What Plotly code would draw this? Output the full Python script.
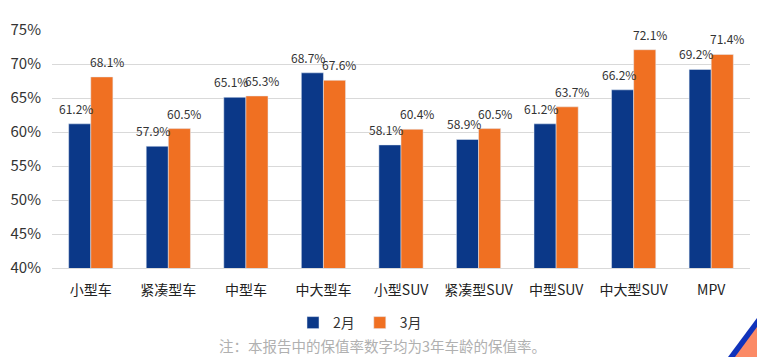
import plotly.graph_objects as go

categories = ["小型车", "紧凑型车", "中型车", "中大型车", "小型SUV", "紧凑型SUV", "中型SUV", "中大型SUV", "MPV"]
feb = [61.2, 57.9, 65.1, 68.7, 58.1, 58.9, 61.2, 66.2, 69.2]
mar = [68.1, 60.5, 65.3, 67.6, 60.4, 60.5, 63.7, 72.1, 71.4]
y_ticks = [40, 45, 50, 55, 60, 65, 70, 75]

blue = "#0b3888"
orange = "#f07022"
font = "Noto Sans CJK SC"

L, R, T, B = 52, 750, 30, 268
W, H = R - L, B - T


def px(x):
    return (x - L) / W


def py(y):
    return (B - y) / H


fig = go.Figure()
fig.add_trace(go.Bar(name="2月", x=categories, y=feb, marker_color=blue))
fig.add_trace(go.Bar(name="3月", x=categories, y=mar, marker_color=orange))

# value labels above bars (slightly spread apart like the original)
for series, shift in ((feb, -15), (mar, 16)):
    for cat, v in zip(categories, series):
        fig.add_annotation(x=cat, y=v, xref="x", yref="y", text=f"{v:.1f}%",
                           showarrow=False, xshift=shift, yshift=5, yanchor="bottom",
                           font=dict(size=12, color="#333333"))

fig.update_layout(
    width=757, height=357,
    margin=dict(l=L, r=757 - R, t=T, b=357 - B, autoexpand=False),
    paper_bgcolor="white", plot_bgcolor="white",
    barmode="group", bargap=0.43, bargroupgap=0,
    font=dict(family=font, color="#333333"),
    showlegend=True,
    legend=dict(orientation="h", x=px(360), xanchor="center", y=py(323), yanchor="middle",
                font=dict(size=14, color="#333333"), itemwidth=30, tracegroupgap=0,
                bgcolor="rgba(0,0,0,0)"),
    yaxis=dict(range=[40, 75], tickvals=y_ticks, ticktext=[f"{v}%" for v in y_ticks],
               showgrid=True, gridcolor="#d9d9d9", gridwidth=1, zeroline=False,
               tickfont=dict(size=15, color="#333333"), ticks="", showline=False,
               automargin=False, ticklabelstandoff=10),
    xaxis=dict(tickfont=dict(size=14, color="#222222"), showline=True, linecolor="#d9d9d9",
               ticks="", ticklen=0, automargin=False, ticklabelstandoff=9),
)
fig.add_annotation(text="注：本报告中的保值率数字均为3年车龄的保值率。", xref="paper", yref="paper",
                   x=px(382), y=py(345), xanchor="center", yanchor="middle",
                   showarrow=False, font=dict(size=14.5, color="#b0b0b0"))
# decorative corner stripes
fig.add_shape(type="path", xref="paper", yref="paper", layer="above",
              path=f"M {px(728)} {py(357)} L {px(757)} {py(318)} L {px(757)} {py(357)} Z",
              fillcolor="#1133bb", line=dict(width=0))
fig.add_shape(type="path", xref="paper", yref="paper", layer="above",
              path=f"M {px(735)} {py(357)} L {px(757)} {py(327)} L {px(757)} {py(357)} Z",
              fillcolor="#fb8a66", line=dict(width=0))
fig.write_html("out.html", config={"displayModeBar": False},
               post_script="document.body.style.margin='0';document.body.style.overflow='hidden';")
